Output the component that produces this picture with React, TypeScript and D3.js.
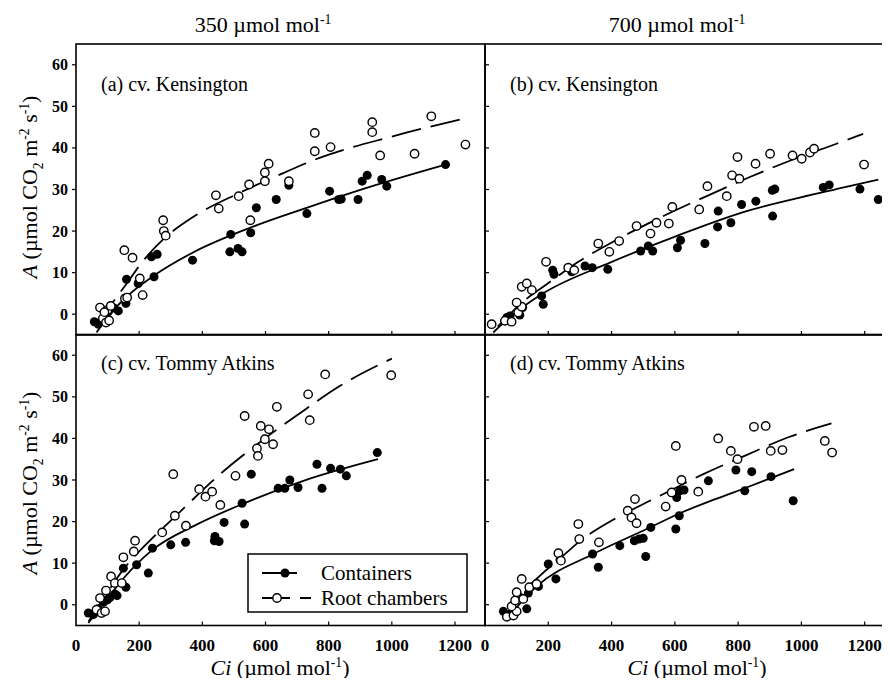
import React, { useEffect, useRef } from 'react';
import * as d3 from 'd3';

type Pt = [number, number];

const xTicks = [0, 200, 400, 600, 800, 1000, 1200];
const yTicks = [0, 10, 20, 30, 40, 50, 60];
const columnTitles = ['350', '700'];
const panelLabels = ['(a) cv. Kensington', '(b) cv. Kensington', '(c) cv. Tommy Atkins', '(d) cv. Tommy Atkins'];
const legendLabels = ['Containers', 'Root chambers'];

// (a) Kensington, 350
const aContainers: Pt[] = [[58, -1.8], [70, -2.4], [85, -1.5], [102, 0.6], [120, 1.5], [134, 0.8], [158, 2.6], [160, 8.4], [197, 7.4], [247, 9.0], [239, 13.8], [257, 14.4], [369, 13.0], [490, 19.2], [487, 15.0], [513, 15.8], [526, 15.0], [553, 19.6], [571, 25.6], [634, 27.6], [674, 31.0], [731, 24.2], [803, 29.6], [832, 27.6], [840, 27.7], [893, 27.6], [906, 32.0], [922, 33.4], [968, 32.4], [984, 30.8], [1170, 36.0]];
const aChambers: Pt[] = [[76, 1.6], [85, -1.0], [95, -2.0], [100, 1.0], [110, 2.0], [105, -1.5], [90, 0.5], [153, 15.4], [179, 13.6], [155, 3.8], [162, 4.0], [202, 8.6], [211, 4.6], [276, 22.6], [278, 20.0], [284, 18.9], [443, 28.6], [452, 25.4], [515, 28.4], [548, 31.2], [552, 22.6], [598, 34.1], [598, 32.0], [610, 36.2], [674, 32.0], [756, 43.6], [756, 39.2], [806, 40.2], [938, 46.2], [938, 43.8], [963, 38.2], [1072, 38.6], [1125, 47.6], [1233, 40.8]];
const aContainersFit: Pt[] = [[65, -4.4], [110, 0.2], [160, 4.2], [247, 9.3], [369, 14.8], [551, 20.8], [730, 25.6], [920, 30.4], [1170, 36.0]];
const aChambersFit: Pt[] = [[70, -2.5], [107, 1.8], [153, 6.6], [223, 13.8], [276, 18.0], [371, 23.4], [518, 29.2], [634, 33.2], [771, 37.6], [1003, 42.8], [1235, 47.2]];

// (b) Kensington, 700
const bContainers: Pt[] = [[69, -0.8], [79, -0.4], [110, -0.2], [119, 1.6], [179, 4.4], [184, 2.4], [214, 10.6], [218, 9.6], [274, 10.2], [316, 11.6], [339, 11.2], [388, 10.8], [492, 15.2], [516, 16.4], [530, 15.2], [608, 16.0], [618, 17.8], [695, 17.0], [735, 21.0], [737, 24.8], [777, 22.0], [811, 26.4], [856, 27.2], [909, 23.6], [908, 29.8], [916, 30.1], [1069, 30.5], [1088, 31.1], [1185, 30.1], [1243, 27.6]];
const bChambers: Pt[] = [[21, -2.4], [63, -1.6], [84, -1.8], [105, 0.4], [116, 1.8], [100, 2.8], [116, 6.6], [132, 7.4], [148, 5.8], [193, 12.6], [263, 11.2], [282, 10.6], [358, 17.0], [393, 15.0], [424, 17.6], [479, 21.2], [523, 19.4], [542, 22.0], [581, 21.8], [592, 25.8], [677, 25.2], [703, 30.8], [764, 28.4], [781, 33.4], [804, 32.6], [798, 37.8], [855, 36.2], [901, 38.6], [972, 38.2], [1001, 37.4], [1027, 38.9], [1040, 39.8], [1198, 36.0]];
const bContainersFit: Pt[] = [[26, -4.4], [90, 0.0], [179, 4.8], [395, 12.4], [605, 18.8], [827, 24.8], [1037, 28.8], [1243, 32.4]];
const bChambersFit: Pt[] = [[40, -3.0], [120, 3.0], [195, 7.2], [295, 12.6], [421, 18.1], [569, 23.8], [706, 28.6], [837, 33.0], [980, 37.4], [1111, 41.0], [1195, 43.4]];

// (c) Tommy Atkins, 350
const cContainers: Pt[] = [[39, -2.0], [55, -2.4], [70, -1.0], [87, 0.6], [100, 1.2], [108, 1.8], [123, 2.6], [130, 2.2], [150, 8.8], [158, 4.2], [192, 9.6], [229, 7.6], [242, 13.6], [300, 14.4], [347, 15.0], [440, 16.4], [438, 15.4], [453, 15.2], [469, 19.8], [526, 24.4], [534, 19.4], [555, 31.4], [640, 28.0], [661, 28.0], [677, 30.0], [703, 28.2], [763, 33.8], [779, 28.0], [806, 32.8], [837, 32.6], [856, 31.0], [954, 36.6]];
const cChambers: Pt[] = [[65, -1.2], [76, 1.6], [81, -2.0], [92, -1.6], [95, 3.4], [111, 6.8], [123, 5.2], [145, 5.2], [150, 11.4], [183, 12.8], [187, 15.4], [273, 17.4], [308, 31.4], [313, 21.4], [348, 19.0], [390, 27.8], [410, 26.0], [431, 27.2], [457, 24.0], [505, 31.0], [534, 45.4], [573, 37.6], [576, 35.8], [585, 43.0], [598, 39.8], [611, 42.2], [624, 38.6], [636, 47.6], [735, 50.6], [740, 44.4], [789, 55.4], [998, 55.2]];
const cContainersFit: Pt[] = [[39, -4.4], [100, 1.5], [150, 6.3], [242, 13.2], [380, 19.2], [526, 24.2], [720, 29.8], [956, 35.0]];
const cChambersFit: Pt[] = [[40, -4.0], [100, 3.0], [150, 8.5], [200, 12.8], [250, 16.6], [330, 22.4], [450, 31.0], [577, 38.8], [708, 46.0], [835, 52.6], [1000, 59.2]];

// (d) Tommy Atkins, 700
const dContainers: Pt[] = [[58, -1.6], [69, -2.4], [90, -1.2], [132, -1.0], [121, 1.4], [137, 2.8], [169, 4.4], [200, 9.8], [224, 6.2], [237, 10.8], [340, 12.2], [358, 9.0], [426, 14.2], [472, 15.4], [487, 15.8], [500, 16.0], [508, 11.6], [524, 18.6], [603, 18.2], [614, 21.4], [606, 25.8], [616, 27.4], [629, 27.6], [706, 29.8], [793, 32.4], [821, 27.4], [843, 32.0], [904, 30.8], [974, 25.0]];
const dChambers: Pt[] = [[69, -2.9], [90, -2.6], [100, -1.6], [84, -0.4], [95, 1.0], [100, 3.0], [116, 6.2], [121, 1.4], [140, 4.2], [163, 5.0], [232, 12.4], [240, 10.6], [295, 19.4], [298, 15.8], [360, 15.0], [451, 22.6], [463, 21.0], [474, 25.4], [479, 19.6], [571, 23.6], [603, 38.2], [590, 27.0], [621, 30.0], [674, 27.2], [737, 40.0], [777, 37.0], [798, 35.0], [850, 42.8], [887, 43.0], [903, 37.0], [940, 37.2], [1074, 39.4], [1097, 36.6]];
const dContainersFit: Pt[] = [[69, -3.4], [163, 4.4], [342, 12.2], [511, 18.2], [616, 22.0], [721, 25.2], [827, 28.2], [977, 32.6]];
const dChambersFit: Pt[] = [[60, -3.0], [120, 3.0], [174, 7.0], [247, 11.8], [295, 15.0], [416, 20.9], [532, 25.4], [690, 31.4], [826, 36.0], [963, 40.4], [1095, 43.6]];

const panelData = [
  { containers: aContainers, chambers: aChambers, containersFit: aContainersFit, chambersFit: aChambersFit },
  { containers: bContainers, chambers: bChambers, containersFit: bContainersFit, chambersFit: bChambersFit },
  { containers: cContainers, chambers: cChambers, containersFit: cContainersFit, chambersFit: cChambersFit },
  { containers: dContainers, chambers: dChambers, containersFit: dContainersFit, chambersFit: dChambersFit },
];

const FONT = "'Liberation Serif', 'Times New Roman', serif";

type Part = { t: string; italic?: boolean; sup?: boolean; sub?: boolean };

// writes a text with italic / super / subscript pieces
function richText(sel: any, parts: Part[], fs: number) {
  let shift = 0;
  parts.forEach((p) => {
    const target = p.sup ? -fs * 0.36 : p.sub ? fs * 0.28 : 0;
    const ts = sel.append('tspan').text(p.t).attr('dy', target - shift);
    shift = target;
    if (p.italic) ts.style('font-style', 'italic');
    if (p.sup || p.sub) ts.style('font-size', `${fs * 0.62}px`);
  });
}

const App = () => {
  const svgRef = useRef<SVGSVGElement>(null);

  useEffect(() => {
    const svg = d3.select(svgRef.current);
    svg.selectAll('*').remove();

    const cols = [
      { range: [76, 485], max: 1295 },
      { range: [485, 890], max: 1280 },
    ];
    const rows = [
      { range: [335, 44] },
      { range: [625.5, 334.5] },
    ];

    const line = d3.line<Pt>().curve(d3.curveMonotoneX);

    panelData.forEach((pd, i) => {
      const col = i % 2;
      const row = Math.floor(i / 2);
      const x = d3.scaleLinear().domain([0, cols[col].max]).range(cols[col].range);
      const y = d3.scaleLinear().domain([-5, 65]).range(rows[row].range);
      const g = svg.append('g');

      // frame
      g.append('rect')
        .attr('x', x.range()[0])
        .attr('y', y.range()[1])
        .attr('width', x.range()[1] - x.range()[0])
        .attr('height', y.range()[0] - y.range()[1])
        .attr('fill', 'none')
        .attr('stroke', '#000')
        .attr('stroke-width', 1.6);

      // x ticks (inward)
      g.selectAll('.xt')
        .data(xTicks.slice(1))
        .enter()
        .append('line')
        .attr('x1', (d) => x(d))
        .attr('x2', (d) => x(d))
        .attr('y1', y.range()[0])
        .attr('y2', y.range()[0] - 4)
        .attr('stroke', '#000')
        .attr('stroke-width', 1.2);

      // y ticks: outward on left column, inward on right column
      const x0 = x.range()[0];
      g.selectAll('.yt')
        .data(yTicks)
        .enter()
        .append('line')
        .attr('x1', x0)
        .attr('x2', col === 0 ? x0 - 4 : x0 + 4)
        .attr('y1', (d) => y(d))
        .attr('y2', (d) => y(d))
        .attr('stroke', '#000')
        .attr('stroke-width', 1.2);

      if (col === 0) {
        g.selectAll('.yl')
          .data(yTicks)
          .enter()
          .append('text')
          .attr('x', x0 - 8)
          .attr('y', (d) => y(d) + 5.5)
          .attr('text-anchor', 'end')
          .style('font-family', FONT)
          .style('font-weight', 'bold')
          .style('font-size', '16px')
          .text((d) => d);
      }
      if (row === 1) {
        g.selectAll('.xl')
          .data(xTicks)
          .enter()
          .append('text')
          .attr('x', (d) => x(d))
          .attr('y', 651)
          .attr('text-anchor', 'middle')
          .style('font-family', FONT)
          .style('font-weight', 'bold')
          .style('font-size', '17px')
          .text((d) => d);
      }

      // fitted curves
      g.append('path')
        .datum(pd.containersFit)
        .attr('d', line.x((d) => x(d[0])).y((d) => y(d[1])))
        .attr('fill', 'none')
        .attr('stroke', '#000')
        .attr('stroke-width', 1.8);
      g.append('path')
        .datum(pd.chambersFit)
        .attr('d', line.x((d) => x(d[0])).y((d) => y(d[1])))
        .attr('fill', 'none')
        .attr('stroke', '#000')
        .attr('stroke-width', 1.8)
        .attr('stroke-dasharray', '30,10');

      g.selectAll('.cf')
        .data(pd.containers)
        .enter()
        .append('circle')
        .attr('cx', (d) => x(d[0]))
        .attr('cy', (d) => y(d[1]))
        .attr('r', 4.5)
        .attr('fill', '#000');
      g.selectAll('.co')
        .data(pd.chambers)
        .enter()
        .append('circle')
        .attr('cx', (d) => x(d[0]))
        .attr('cy', (d) => y(d[1]))
        .attr('r', 4.2)
        .attr('fill', '#fff')
        .attr('stroke', '#000')
        .attr('stroke-width', 1.4);

      g.append('text')
        .attr('x', x.range()[0] + 25)
        .attr('y', row === 0 ? 91 : 370)
        .style('font-family', FONT)
        .style('font-size', '20px')
        .text(panelLabels[i]);
    });

    // column titles
    [263, 677].forEach((cx, i) => {
      const t = svg.append('text')
        .attr('x', cx)
        .attr('y', 32)
        .attr('text-anchor', 'middle')
        .style('font-family', FONT)
        .style('font-size', '22px');
      richText(t, [{ t: `${columnTitles[i]} µmol mol` }, { t: '-1', sup: true }], 22);
    });

    // x titles
    [280, 697].forEach((cx) => {
      const t = svg.append('text')
        .attr('x', cx)
        .attr('y', 675)
        .attr('text-anchor', 'middle')
        .style('font-family', FONT)
        .style('font-size', '22px');
      richText(t, [{ t: 'Ci', italic: true }, { t: ' (µmol mol' }, { t: '-1', sup: true }, { t: ')' }], 22);
    });

    // y titles
    [187, 483].forEach((cy) => {
      const t = svg.append('text')
        .attr('transform', `translate(37,${cy}) rotate(-90)`)
        .attr('text-anchor', 'middle')
        .style('font-family', FONT)
        .style('font-size', '22px');
      richText(t, [
        { t: 'A', italic: true },
        { t: ' (µmol CO' },
        { t: '2', sub: true },
        { t: ' m' },
        { t: '-2', sup: true },
        { t: '  s' },
        { t: '-1', sup: true },
        { t: ')' },
      ], 22);
    });

    // legend
    const lg = svg.append('g');
    lg.append('rect')
      .attr('x', 248).attr('y', 554).attr('width', 219).attr('height', 58)
      .attr('fill', '#fff').attr('stroke', '#000').attr('stroke-width', 1.5);
    lg.append('line').attr('x1', 262).attr('x2', 297).attr('y1', 573).attr('y2', 573)
      .attr('stroke', '#000').attr('stroke-width', 1.8);
    lg.append('circle').attr('cx', 285).attr('cy', 573).attr('r', 4.5).attr('fill', '#000');
    lg.append('line').attr('x1', 262).attr('x2', 311).attr('y1', 598).attr('y2', 598)
      .attr('stroke', '#000').attr('stroke-width', 1.8).attr('stroke-dasharray', '28,10');
    lg.append('circle').attr('cx', 277).attr('cy', 598).attr('r', 4.2)
      .attr('fill', '#fff').attr('stroke', '#000').attr('stroke-width', 1.4);
    legendLabels.forEach((l, i) => {
      lg.append('text')
        .attr('x', 321)
        .attr('y', 580 + i * 25)
        .style('font-family', FONT)
        .style('font-size', '21px')
        .text(l);
    });
  }, []);

  return <svg ref={svgRef} width={890} height={686} style={{ display: 'block', margin: '-8px' }}></svg>;
};

export default App;
